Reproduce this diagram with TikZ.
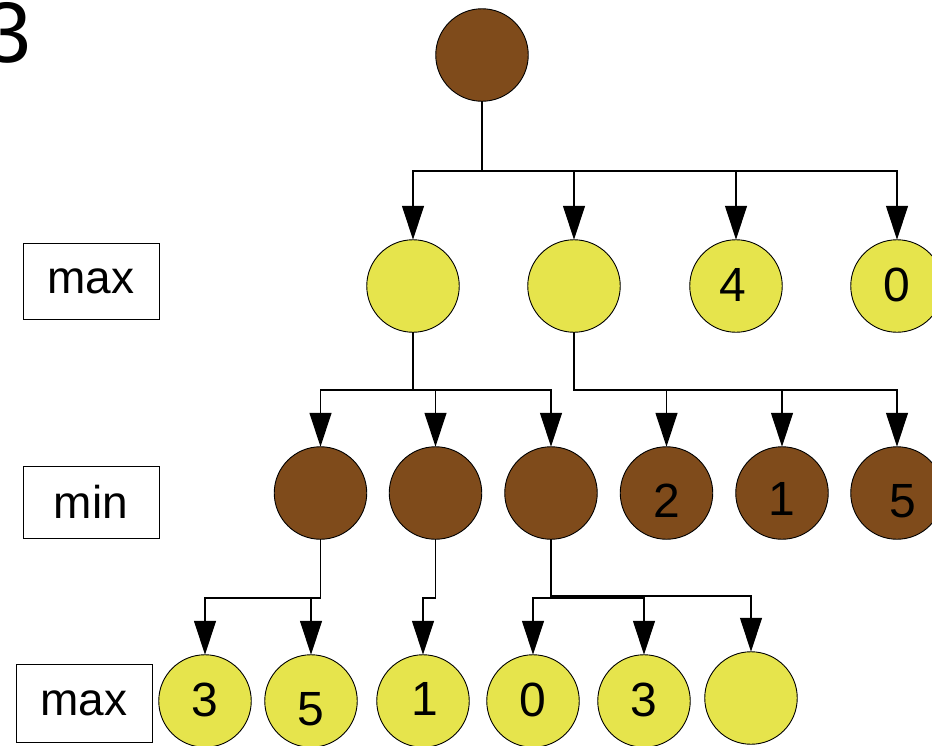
\documentclass[tikz,border=0pt]{standalone}
\usepackage{fontspec}
\setmainfont{Liberation Sans}
\usetikzlibrary{arrows.meta}
\definecolor{nutbrown}{RGB}{127,75,27}
\definecolor{leafyellow}{RGB}{230,228,76}
\begin{document}
\begin{tikzpicture}[x=1pt,y=-1pt,
  every node/.style={inner sep=0pt, outer sep=0pt},
  ball/.style={circle, draw=black, line width=0.9pt, minimum size=92.5pt},
  maxball/.style={ball, fill=leafyellow},
  minball/.style={ball, fill=nutbrown},
  digit/.style={font=\fontsize{48}{48}\selectfont},
  levelbox/.style={draw=black, line width=0.9pt, minimum width=136pt,
    font=\fontsize{46}{46}\selectfont},
  wire/.style={line width=1.2pt, draw=black},
  arrowwire/.style={wire, -{Triangle[length=34pt,width=22pt]}},
]
\useasboundingbox (0,0) rectangle (932,745);
\clip (0,0) rectangle (932,745);

% corner number
\node[font=\fontsize{86}{86}\selectfont, anchor=base east] (corner) at (31,62) {3};

% level captions
\node[levelbox, minimum height=76pt] (capA) at (91,281) {max};
\node[levelbox, minimum height=72pt] (capB) at (91,502) {min};
\node[levelbox, minimum height=78pt] (capC) at (84,703) {max};

% root
\node[minball] (r) at (482,55) {};

% max level
\node[maxball] (a1) at (413,286) {};
\node[maxball] (a2) at (574,286) {};
\node[maxball] (a3) at (736,286) {};
\node[maxball] (a4) at (897,286) {};

% min level
\node[minball] (b1) at (320.5,493) {};
\node[minball] (b2) at (435.5,493) {};
\node[minball] (b3) at (551,493) {};
\node[minball] (b4) at (666.5,493) {};
\node[minball] (b5) at (782,493) {};
\node[minball] (b6) at (897,493) {};

% leaves
\node[maxball] (c1) at (205,701) {};
\node[maxball] (c2) at (311,701) {};
\node[maxball] (c3) at (423,701) {};
\node[maxball] (c4) at (533,701) {};
\node[maxball] (c5) at (644,701) {};
\node[maxball] (c6) at (751,698) {};

% values
\node[digit] (va3) at (733,285) {4};
\node[digit] (va4) at (897,285) {0};
\node[digit] (vb4) at (667,501) {2};
\node[digit] (vb5) at (782,499) {1};
\node[digit] (vb6) at (903,501) {5};
\node[digit] (vc1) at (205,700) {3};
\node[digit] (vc2) at (311,709) {5};
\node[digit] (vc3) at (425,699) {1};
\node[digit] (vc4) at (533,700) {0};
\node[digit] (vc5) at (644,700) {3};

% bus heights
\coordinate (bus0) at (0,171);
\coordinate (bus1) at (0,390);
\coordinate (bus2) at (0,598);
\coordinate (bus3) at (0,596);

% root -> max level
\foreach \k in {a1,a2,a3,a4}
  \draw[arrowwire] (r.south) -- (r.south |- bus0) -| (\k.north);

% max -> min level
\foreach \k in {b1,b2,b3}
  \draw[arrowwire] (a1.south) -- (a1.south |- bus1) -| (\k.north);
\foreach \k in {b4,b5,b6}
  \draw[arrowwire] (a2.south) -- (a2.south |- bus1) -| (\k.north);

% min -> leaves
\foreach \k in {c1,c2}
  \draw[arrowwire] (b1.south) -- (b1.south |- bus2) -| (\k.north);
\draw[arrowwire] (b2.south) -- (b2.south |- bus2) -| (c3.north);
\foreach \k in {c4,c5}
  \draw[arrowwire] (b3.south) -- (b3.south |- bus2) -| (\k.north);
\draw[arrowwire] (b3.south) -- (b3.south |- bus3) -| (c6.north);
\end{tikzpicture}
\end{document}
